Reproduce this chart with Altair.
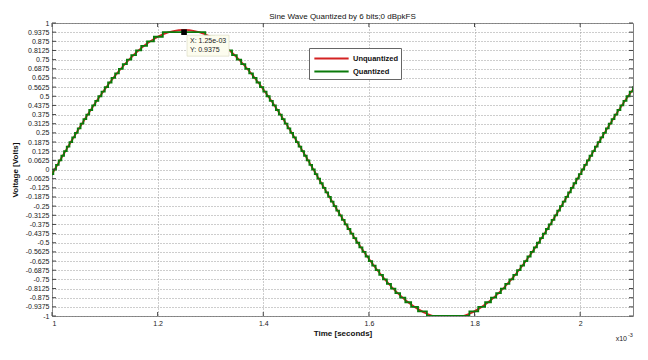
import altair as alt
import pandas as pd

# ---- data -------------------------------------------------------------------
# time offsets (ms) after each zero crossing of the sine at which the waveform passes a
# quantizer decision level (the mid-points between the 1/32 output steps), j = 0..30
CROSS_OFFSETS_MS = [0.002526, 0.007582, 0.012645, 0.017721, 0.022815, 0.027932, 0.033079,
                    0.038262, 0.043486, 0.048758, 0.054087, 0.059480, 0.064945, 0.070492,
                    0.076132, 0.081878, 0.087745, 0.093754, 0.099907, 0.106240, 0.112781,
                    0.119562, 0.126624, 0.134020, 0.141827, 0.150137, 0.159096, 0.168919,
                    0.179975, 0.192981, 0.209790]
ZERO_CROSSINGS_MS = [1.0, 1.5, 2.0]       # rising, falling, rising
ZERO_LEVEL = -0.03125                       # waveform value at those crossings
PEAK_TIMES_MS = [1.25, 1.75]
PEAK_VALUES = [0.953125, -1.015625]
END_TIME_MS = 2.1
END_VALUE = 0.5474
LSB = 1 / 32

SERIES = ["Unquantized", "Quantized"]
COLORS = ["#d42222", "#0a7a0a"]

Y_TICKS = [k / 16 for k in range(-16, 17)]
X_TICKS = [1.0, 1.2, 1.4, 1.6, 1.8, 2.0]

TIP_T = [1.25]
TIP_V = [0.9375]
TIP_TEXT = ["X: 1.25e-03\nY: 0.9375"]

TITLE = "Sine Wave Quantized by 6 bits;0 dBpkFS"
X_TITLE = "Time [seconds]"
Y_TITLE = "Voltage [Volts]"

# ---- tables -----------------------------------------------------------------
F = CROSS_OFFSETS_MS
N = len(F)
z0, z1, z2 = ZERO_CROSSINGS_MS


def pos_level(j):      # decision level crossed at offset j on the positive half
    return (2 * j - 1) / 64


def neg_level(j):      # decision level crossed at offset j on the negative half
    return -(2 * j + 3) / 64


red = [(z0, ZERO_LEVEL)]
red += [(z0 + F[j], pos_level(j)) for j in range(N)]
red.append((PEAK_TIMES_MS[0], PEAK_VALUES[0]))
red += [(z1 - F[j], pos_level(j)) for j in range(N - 1, -1, -1)]
red.append((z1, ZERO_LEVEL))
red += [(z1 + F[j], neg_level(j)) for j in range(N)]
red.append((PEAK_TIMES_MS[1], PEAK_VALUES[1]))
red += [(z2 - F[j], neg_level(j)) for j in range(N - 1, -1, -1)]
red.append((z2, ZERO_LEVEL))
red += [(z2 + F[j], pos_level(j)) for j in range(N) if z2 + F[j] < END_TIME_MS]
red.append((END_TIME_MS, END_VALUE))

# quantized output: step index n (value n/32) and the time each step begins
green = [(z0, -1)]
green += [(z0 + F[n], n) for n in range(N)]
green += [(z1 - F[n], n - 1) for n in range(N - 1, -1, -1)]
green += [(z1 + F[m], -(m + 2)) for m in range(N)]
green += [(z2 - F[m], -(m + 1)) for m in range(N - 1, -1, -1)]
green += [(z2 + F[n], n) for n in range(N) if z2 + F[n] < END_TIME_MS]
green.append((END_TIME_MS, green[-1][1]))

red_df = pd.DataFrame({"t": [p[0] for p in red], "v": [p[1] for p in red], "series": SERIES[0]})
green_df = pd.DataFrame({"t": [p[0] for p in green], "v": [p[1] * LSB for p in green],
                         "series": SERIES[1]})
ytick_df = pd.DataFrame({"v": Y_TICKS})
xtick_df = pd.DataFrame({"t": X_TICKS})
tip_df = pd.DataFrame({"t": TIP_T, "v": TIP_V, "label": TIP_TEXT})

W, H = 581, 293
FONT = "Liberation Sans"

xscale = alt.Scale(domain=[1.0, END_TIME_MS], nice=False, zero=False)
yscale = alt.Scale(domain=[-1, 1], nice=False, zero=False)

legend = alt.Legend(orient="none", legendX=257, legendY=25, title=None,
                    symbolType="M-2.8,0L2.8,0", symbolStrokeWidth=2, symbolSize=150,
                    symbolOffset=12, labelOffset=14,
                    labelFont=FONT, labelFontSize=7.5, labelFontWeight="bold", labelColor="#111",
                    strokeColor="#666", fillColor="white", padding=3, rowPadding=1)
color = alt.Color("series:N", scale=alt.Scale(domain=SERIES, range=COLORS), legend=legend)

xaxis = alt.Axis(values=X_TICKS, title=X_TITLE, grid=True, ticks=False, domain=False,
                 labelExpr="'' + datum.value", labelFont=FONT, labelFontSize=7, labelColor="#222",
                 labelPadding=3, titleFont=FONT, titleFontSize=8, titleFontWeight="bold",
                 titleColor="#111", titleX=W / 2, titleY=17, titleBaseline="middle")
yaxis = alt.Axis(values=Y_TICKS, title=Y_TITLE, grid=True, ticks=False, domain=False,
                 labelExpr="'' + datum.value", labelFont=FONT, labelFontSize=7, labelColor="#222",
                 labelPadding=3, labelOverlap=False, titleFont=FONT, titleFontSize=8,
                 titleFontWeight="bold", titleColor="#111", titleX=-37, titleY=H / 2,
                 titleAngle=270, titleBaseline="middle", titleAlign="center")

X = lambda: alt.X("t:Q", scale=xscale, axis=xaxis)
Y = lambda: alt.Y("v:Q", scale=yscale, axis=yaxis)

red_line = alt.Chart(red_df).mark_line(interpolate="monotone", strokeWidth=1.8, clip=True).encode(
    x=X(), y=Y(), color=color)
green_line = alt.Chart(green_df).mark_line(interpolate="step-after", strokeWidth=1.8, clip=True).encode(
    x=X(), y=Y(), color=color)

tick_style = dict(color="#444", strokeWidth=1)
ticks_left = alt.Chart(ytick_df).mark_rule(**tick_style).encode(
    y=Y(), x=alt.value(0), x2=alt.value(4))
ticks_right = alt.Chart(ytick_df).mark_rule(**tick_style).encode(
    y=Y(), x=alt.value(W - 4), x2=alt.value(W))
ticks_bottom = alt.Chart(xtick_df).mark_rule(**tick_style).encode(
    x=X(), y=alt.value(H - 4), y2=alt.value(H))
ticks_top = alt.Chart(xtick_df).mark_rule(**tick_style).encode(
    x=X(), y=alt.value(0), y2=alt.value(4))

tip_box = alt.Chart(tip_df).mark_rect(fill="#fcfcee", stroke="#d8d8c0", strokeWidth=0.6,
                                      xOffset=3, x2Offset=45, yOffset=3, y2Offset=24).encode(
    x=X(), x2="t:Q", y=Y(), y2="v:Q")
tip_text = alt.Chart(tip_df).mark_text(align="left", baseline="top", dx=6, dy=5, lineHeight=9,
                                       font=FONT, fontSize=7, color="#222",
                                       lineBreak="\n").encode(
    x=X(), y=Y(), text="label:N")
tip_point = alt.Chart(tip_df).mark_square(size=32, color="black", opacity=1).encode(
    x=X(), y=Y())

mult = alt.Chart(tip_df).mark_text(align="right", baseline="middle", font=FONT, fontSize=7,
                                   color="#222").encode(
    x=alt.value(W - 6), y=alt.value(H + 23), text=alt.value("x10"))
mult_exp = alt.Chart(tip_df).mark_text(align="left", baseline="middle", font=FONT, fontSize=5.5,
                                       color="#222").encode(
    x=alt.value(W - 5), y=alt.value(H + 19), text=alt.value("-3"))

chart = alt.layer(
    red_line, green_line, ticks_left, ticks_right, ticks_bottom, ticks_top,
    tip_box, tip_text, tip_point, mult, mult_exp,
).properties(
    width=W, height=H,
    title=alt.TitleParams(TITLE, font=FONT, fontSize=8, fontWeight="normal", color="#111",
                          anchor="middle", offset=-2),
    autosize=alt.AutoSizeParams(type="none"),
    padding={"left": 44, "top": 15, "right": 7, "bottom": 36},
    background="white",
).configure_view(
    stroke="#808080", strokeWidth=1,
).configure_axis(
    gridColor="#9a9a9a", gridDash=[1, 2], gridWidth=1, gridOpacity=1,
)

chart.save("out.html", embed_options={"renderer": "svg", "actions": False})
